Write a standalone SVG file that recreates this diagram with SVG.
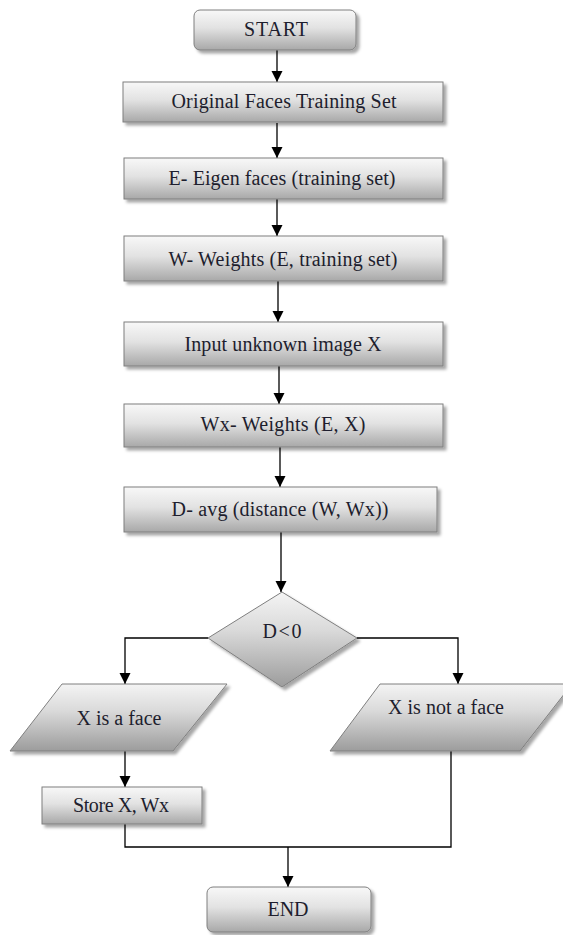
<svg xmlns="http://www.w3.org/2000/svg" width="563" height="935" viewBox="0 0 563 935">
<defs>
<linearGradient id="g" x1="0" y1="0" x2="0" y2="1">
<stop offset="0" stop-color="#f8f8f8"/>
<stop offset="0.45" stop-color="#e2e2e2"/>
<stop offset="1" stop-color="#a8a8a8"/>
</linearGradient>
<linearGradient id="g2" x1="0" y1="0" x2="0" y2="1">
<stop offset="0" stop-color="#f4f4f4"/>
<stop offset="0.4" stop-color="#dadada"/>
<stop offset="1" stop-color="#9c9c9c"/>
</linearGradient>
<filter id="sh" x="-10%" y="-10%" width="130%" height="140%">
<feDropShadow dx="3" dy="3" stdDeviation="1.5" flood-color="#000" flood-opacity="0.35"/>
</filter>
<marker id="arr" markerUnits="userSpaceOnUse" markerWidth="12" markerHeight="12" refX="11" refY="6" orient="auto">
<path d="M0,0.5 L11,6 L0,11.5 z" fill="#000"/>
</marker>
</defs>
<style>
.box{fill:url(#g);stroke:#7f7f7f;stroke-width:1;filter:url(#sh)}
.shp{fill:url(#g2);stroke:#7f7f7f;stroke-width:1;filter:url(#sh)}
text{font-family:'Liberation Serif','Times New Roman',serif;font-size:20px;fill:#1e1e2e;text-anchor:middle}
.c{fill:none;stroke:#000;stroke-width:1.3}
.a{marker-end:url(#arr)}
</style>
<g id="connectors">
<line class="c a" x1="277" y1="50" x2="277" y2="82"/>
<line class="c a" x1="277" y1="123" x2="277" y2="158"/>
<line class="c a" x1="277" y1="199" x2="277" y2="236"/>
<line class="c a" x1="278" y1="281" x2="278" y2="322"/>
<line class="c a" x1="279" y1="366" x2="279" y2="404"/>
<line class="c a" x1="280" y1="447" x2="280" y2="487"/>
<line class="c a" x1="281" y1="532" x2="281" y2="592"/>
<polyline class="c a" points="208,638 125,638 125,684"/>
<polyline class="c a" points="357,638 458,638 458,684"/>
<line class="c a" x1="125" y1="751" x2="125" y2="787"/>
<polyline class="c" points="125,824 125,847 451,847 451,751"/>
<line class="c a" x1="288" y1="847" x2="288" y2="887"/>
</g>
<g id="start"><rect class="box" x="194" y="10" width="162" height="40" rx="6"/><text x="276" y="36" textLength="64" font-family="Liberation Serif, serif">START</text></g>
<g id="n1"><rect class="box" x="123" y="82" width="320" height="40"/><text x="284" y="108" textLength="225" font-family="Liberation Serif, serif">Original Faces Training Set</text></g>
<g id="n2"><rect class="box" x="124" y="158" width="319" height="41"/><text x="282" y="185" textLength="227" font-family="Liberation Serif, serif">E- Eigen faces (training set)</text></g>
<g id="n3"><rect class="box" x="124" y="236" width="319" height="45"/><text x="283" y="266" textLength="229" font-family="Liberation Serif, serif">W- Weights (E, training set)</text></g>
<g id="n4"><rect class="box" x="124" y="322" width="319" height="44"/><text x="283" y="351" textLength="197" font-family="Liberation Serif, serif">Input unknown image X</text></g>
<g id="n5"><rect class="box" x="124" y="404" width="319" height="43"/><text x="283" y="431" textLength="165" font-family="Liberation Serif, serif">Wx- Weights (E, X)</text></g>
<g id="n6"><rect class="box" x="124" y="487" width="313" height="45"/><text x="280" y="516" textLength="217" font-family="Liberation Serif, serif">D- avg (distance (W, Wx))</text></g>
<g id="decision"><polygon class="shp" points="282,592 357,638 282,687 208,638"/><text x="282" y="638" textLength="39" font-family="Liberation Serif, serif">D&lt;0</text></g>
<g id="face"><polygon class="shp" points="62,684 227,684 173,751 10,751"/><text x="119" y="725" textLength="85" font-family="Liberation Serif, serif">X is a face</text></g>
<g id="notface"><polygon class="shp" points="380,684 572,684 520,751 330,751"/><text x="446" y="714" textLength="116" font-family="Liberation Serif, serif">X is not a face</text></g>
<g id="store"><rect class="box" x="42" y="787" width="160" height="37"/><text x="121" y="812" textLength="96" font-family="Liberation Serif, serif">Store X, Wx</text></g>
<g id="end"><rect class="box" x="207" y="887" width="164" height="45" rx="6"/><text x="288" y="916" textLength="41" font-family="Liberation Serif, serif">END</text></g>
</svg>
